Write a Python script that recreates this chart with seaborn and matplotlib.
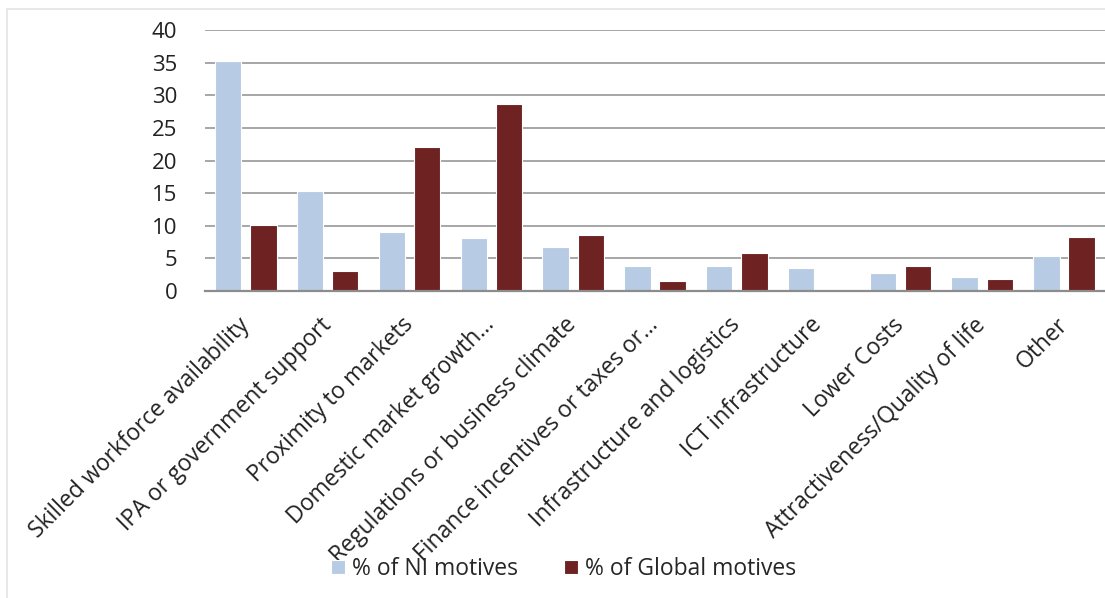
import matplotlib
matplotlib.use("Agg")
import matplotlib.pyplot as plt
from matplotlib.patches import Rectangle
import seaborn as sns
import pandas as pd


CATEGORIES = [
    'Skilled workforce availability',
    'IPA or government support',
    'Proximity to markets',
    'Domestic market growth…',
    'Regulations or business climate',
    'Finance incentives or taxes or…',
    'Infrastructure and logistics',
    'ICT infrastructure',
    'Lower Costs',
    'Attractiveness/Quality of life',
    'Other',
]
NI_MOTIVES = [35.2, 15.4, 9.0, 8.1, 6.7, 3.9, 3.9, 3.5, 2.8, 2.1, 5.3]
GLOBAL_MOTIVES = [10.1, 3.0, 22.1, 28.6, 8.6, 1.5, 5.8, 0.0, 3.8, 1.9, 8.2]
SERIES = ['% of NI motives', '% of Global motives']
Y_TICKS = [0, 5, 10, 15, 20, 25, 30, 35, 40]

sns.set_theme(style='white')
plt.rcParams['font.family'] = ['Open Sans', 'DejaVu Sans']

df = pd.DataFrame({
    'category': CATEGORIES * 2,
    'value': NI_MOTIVES + GLOBAL_MOTIVES,
    'series': [SERIES[0]] * len(CATEGORIES) + [SERIES[1]] * len(CATEGORIES),
})

fig = plt.figure(figsize=(11.05, 5.98), dpi=100)
ax = fig.add_axes([0.1855, 0.5134, 0.8145, 0.4364])

sns.barplot(
    data=df, x='category', y='value', hue='series', order=CATEGORIES,
    hue_order=SERIES, palette=['#B7CCE4', '#6E2222'], saturation=1,
    width=0.86, gap=0.25, edgecolor='white', linewidth=0.8, ax=ax,
    legend=True,
)

ax.set_ylim(0, 40)
ax.set_xlim(-0.5, len(CATEGORIES) - 0.5)
ax.set_yticks(Y_TICKS)
ax.yaxis.grid(True, color='#A6A6A6', linewidth=1.4)
ax.set_axisbelow(True)
ax.set_xlabel('')
ax.set_ylabel('')
for side in ('left', 'right', 'top'):
    ax.spines[side].set_visible(False)
ax.spines['bottom'].set_color('#8C8C8C')
ax.spines['bottom'].set_linewidth(1.6)
ax.tick_params(axis='y', length=0, labelsize=16, pad=20, labelcolor='#222222')
ax.tick_params(axis='x', length=0, labelsize=16.5, pad=22, labelcolor='#222222')
plt.setp(ax.get_xticklabels(), rotation=45, ha='right', va='center',
         rotation_mode='anchor')

handles, labels = ax.get_legend_handles_labels()
ax.get_legend().remove()
fig.legend(
    handles, labels, loc='center', bbox_to_anchor=(0.51, 0.048), ncol=2,
    frameon=False, fontsize=16.5, handlelength=0.6, handleheight=0.6,
    handletextpad=0.3, columnspacing=2.0,
)

# thin frame around the chart area
fig.patches.append(Rectangle(
    (0.0065, -0.01), 1.0, 0.995, transform=fig.transFigure,
    fill=False, edgecolor='#E3E3E3', linewidth=1.2,
))

fig.savefig('out.png', dpi=100)
